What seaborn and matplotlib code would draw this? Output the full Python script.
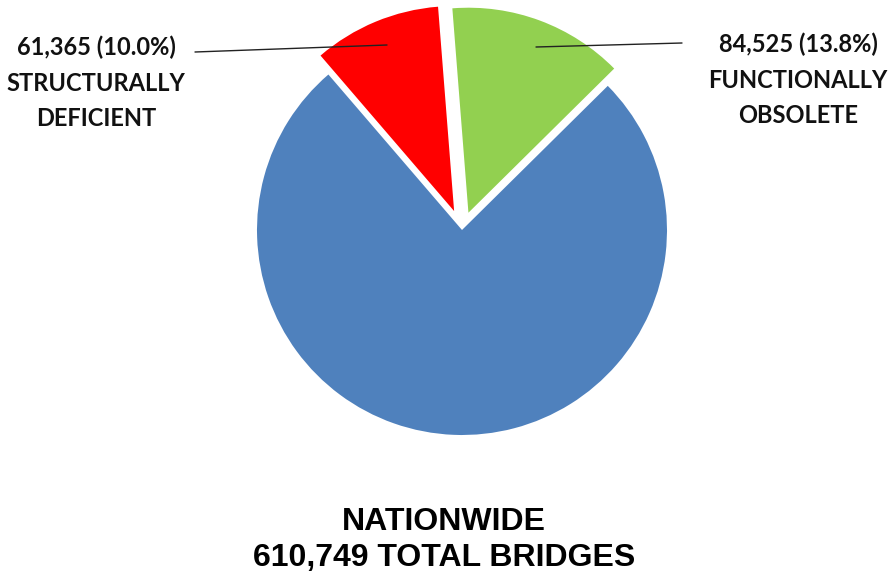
import numpy as np
import seaborn as sns
import matplotlib.pyplot as plt

# bridge counts (nationwide)
categories = ['Structurally Deficient', 'Not Deficient', 'Functionally Obsolete']
counts = [61365, 464859, 84525]
total_bridges = 610749
colors = ['#FF0000', '#4F81BD', '#92D050']
label_texts = ['61,365 (10.0%)\nSTRUCTURALLY\nDEFICIENT',
               '84,525 (13.8%)\nFUNCTIONALLY\nOBSOLETE']

sns.set_theme(style='white')
plt.rcParams['font.family'] = ['Liberation Sans', 'DejaVu Sans']

W, H = 890, 575
fig = plt.figure(figsize=(W / 100, H / 100), dpi=100)
ax = fig.add_axes([0, 0, 1, 1])

wedges, _ = ax.pie(counts, colors=colors, startangle=94.5, counterclock=True,
                   explode=[0.1, 0, 0.09],
                   wedgeprops={'linewidth': 0, 'antialiased': True})

# pie centre at (462, 230) px, radius 205 px
cx, cy, r = 462, 230, 205
ax.set_xlim(-cx / r, (W - cx) / r)
ax.set_ylim(-(H - cy) / r, cy / r)
ax.set_aspect('auto')
ax.axis('off')


def fx(px):
    return px / W


def fy(py):
    return 1 - py / H


# leader lines
fig.add_artist(plt.Line2D([fx(195), fx(387)], [fy(52), fy(45)], color='#222222', lw=1.0))
fig.add_artist(plt.Line2D([fx(536), fx(682)], [fy(47), fy(43)], color='#222222', lw=1.0))

# slice labels
fig.text(fx(96), fy(83), label_texts[0], ha='center', va='center', fontsize=17,
         fontweight='bold', family=['Lato', 'DejaVu Sans'], linespacing=1.65, color='#111111')
fig.text(fx(798), fy(80), label_texts[1], ha='center', va='center', fontsize=17,
         fontweight='bold', family=['Lato', 'DejaVu Sans'], linespacing=1.65, color='#111111')

# bottom caption
fig.text(fx(444), fy(540), f'NATIONWIDE\n{total_bridges:,} TOTAL BRIDGES', ha='center',
         va='center', fontsize=23, fontweight='bold', linespacing=1.25, color='black')

fig.savefig('out.png', dpi=100)
